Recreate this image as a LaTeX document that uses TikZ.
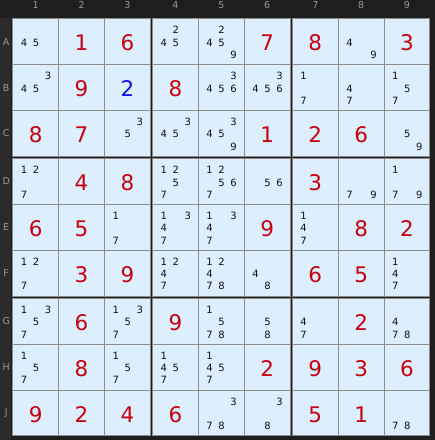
\documentclass[tikz,border=0pt]{standalone}
\usepackage{fontspec}
\setmainfont{DejaVu Sans}
\definecolor{bgdark}{HTML}{1E1E1E}
\definecolor{stripdark}{HTML}{2B2B2B}
\definecolor{cellblue}{HTML}{DDEEFF}
\definecolor{linegray}{HTML}{8C8C8C}
\definecolor{givenred}{RGB}{196,0,16}
\definecolor{userblue}{RGB}{16,16,230}
\definecolor{pmcol}{HTML}{101018}
\definecolor{hdrgray}{HTML}{9A9A9A}
\tikzset{
  given/.style={text=givenred, font=\fontsize{21.5}{21.5}\selectfont, inner sep=0pt, anchor=base},
  user/.style={given, text=userblue},
  pmark/.style={text=pmcol, font=\fontsize{10}{10}\selectfont, inner sep=0pt, anchor=base},
  hdr/.style={text=hdrgray, font=\fontsize{9.5}{9.5}\selectfont, inner sep=0pt},
  gridline/.style={draw=linegray, line width=1pt},
  boxfill/.style={fill=cellblue},
}
\newcommand\setcell{%
  \pgfmathsetmacro\cx{12.8+int((\cc-1)/3)*139.8+(mod(\cc-1,3)+0.5)*137.5/3}%
  \pgfmathsetmacro\cy{18.8+int((\rr-1)/3)*139.8+(mod(\rr-1,3)+0.5)*137.5/3}%
}
\newcommand\pmdraw[1]{%
  \pgfmathsetmacro\px{\cx+0.3+(mod(#1-1,3)-1)*12}%
  \pgfmathsetmacro\py{\cy+0.8+(int((#1-1)/3)-1)*12.3+3.7}%
  \node[pmark] (p-\rr-\cc-#1) at (\px,\py) {#1};%
}
\def\pmloop#1{\ifx#1\relax\else\pmdraw{#1}\expandafter\pmloop\fi}
\begin{document}
\begin{tikzpicture}[x=1pt,y=-1pt]
  \useasboundingbox (0,0) rectangle (435,440);
  \fill[bgdark] (0,0) rectangle (435,440);
  \fill[stripdark] (0,18) rectangle (11.3,440);
  % boxes
  \foreach \bi in {0,1,2}{
    \foreach \bj in {0,1,2}{
      \pgfmathsetmacro\bx{12.8+\bj*139.8}
      \pgfmathsetmacro\by{18.8+\bi*139.8}
      \fill[boxfill] (\bx,\by) rectangle ++(137.5,137.5);
      \draw[gridline] (\bx+45.833,\by) -- ++(0,137.5);
      \draw[gridline] (\bx+91.667,\by) -- ++(0,137.5);
      \draw[gridline] (\bx,\by+45.833) -- ++(137.5,0);
      \draw[gridline] (\bx,\by+91.667) -- ++(137.5,0);
      \draw[gridline] (\bx,\by) rectangle ++(137.5,137.5);
    }
  }
  % headers
  \foreach \cc in {1,...,9}{
    \pgfmathsetmacro\hx{12.8+int((\cc-1)/3)*139.8+(mod(\cc-1,3)+0.5)*137.5/3}
    \node[hdr] (col-\cc) at (\hx,5.3) {\cc};
  }
  \foreach \rr/\lab in {1/A,2/B,3/C,4/D,5/E,6/F,7/G,8/H,9/J}{
    \pgfmathsetmacro\hy{18.8+int((\rr-1)/3)*139.8+(mod(\rr-1,3)+0.5)*137.5/3}
    \node[hdr] (row-\lab) at (6.2,\hy) {\lab};
  }
  % given digits
  \foreach \rr/\cc/\dd in {1/2/1,1/3/6,1/6/7,1/7/8,1/9/3,
    2/2/9,2/4/8,
    3/1/8,3/2/7,3/6/1,3/7/2,3/8/6,
    4/2/4,4/3/8,4/7/3,
    5/1/6,5/2/5,5/6/9,5/8/8,5/9/2,
    6/2/3,6/3/9,6/7/6,6/8/5,
    7/2/6,7/4/9,7/8/2,
    8/2/8,8/6/2,8/7/9,8/8/3,8/9/6,
    9/1/9,9/2/2,9/3/4,9/4/6,9/7/5,9/8/1}{
    \setcell
    \node[given] (g-\rr-\cc) at (\cx,\cy+9.2) {\dd};
  }
  % user digit
  \foreach \rr/\cc/\dd in {2/3/2}{
    \setcell
    \node[user] (u-\rr-\cc) at (\cx,\cy+9.2) {\dd};
  }
  % pencil marks
  \foreach \rr/\cc/\dd in {1/1/45,1/4/245,1/5/2459,1/8/49,
    2/1/345,2/5/3456,2/6/3456,2/7/17,2/8/47,2/9/157,
    3/3/35,3/4/345,3/5/3459,3/9/59,
    4/1/127,4/4/1257,4/5/12567,4/6/56,4/8/79,4/9/179,
    5/3/17,5/4/1347,5/5/1347,5/7/147,
    6/1/127,6/4/1247,6/5/12478,6/6/48,6/9/147,
    7/1/1357,7/3/1357,7/5/1578,7/6/58,7/7/47,7/9/478,
    8/1/157,8/3/157,8/4/1457,8/5/1457,
    9/5/378,9/6/38,9/9/78}{
    \setcell
    \expandafter\pmloop\dd\relax
  }
\end{tikzpicture}
\end{document}
